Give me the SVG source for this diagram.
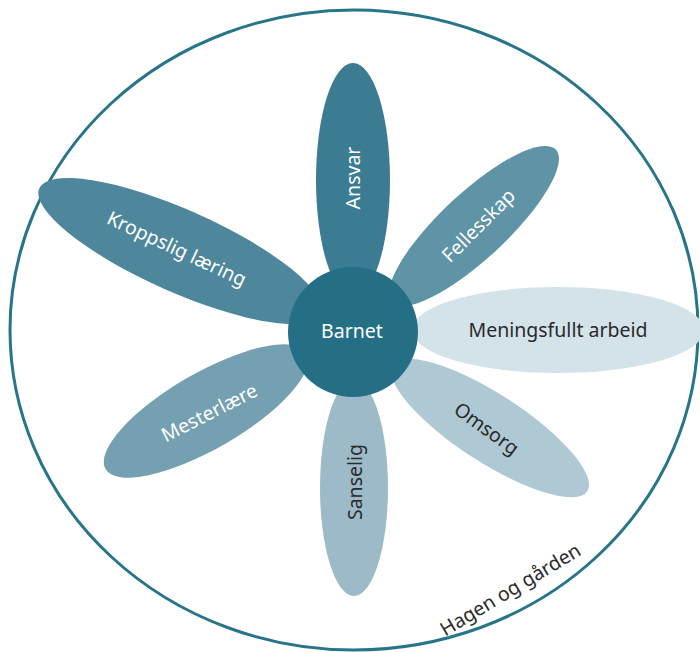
<svg xmlns="http://www.w3.org/2000/svg" width="700" height="652" viewBox="0 0 700 652">
  <style>
    .lbl { font-family: "Noto Sans", "Liberation Sans", sans-serif; font-size: 19.5px; text-anchor: middle; dominant-baseline: central; }
    .light { fill: #ffffff; }
    .dark { fill: #2a2a2a; }
  </style>
  <rect width="700" height="652" fill="#ffffff"/>

  <!-- outer boundary: the garden and farm -->
  <g id="garden">
    <ellipse cx="354" cy="330" rx="344" ry="320" fill="none" stroke="#28758a" stroke-width="3"/>
    <text class="lbl dark" font-size="17.5" transform="translate(510,589) rotate(-31)">Hagen og gården</text>
  </g>

  <!-- petals -->
  <g id="petal-ansvar">
    <ellipse cx="353" cy="180" rx="37" ry="117" fill="#3b7c93"/>
    <text class="lbl light" transform="translate(352,178) rotate(-90)">Ansvar</text>
  </g>
  <g id="petal-fellesskap">
    <ellipse cx="0" cy="0" rx="112" ry="33" fill="#5f94a6" transform="translate(474,226) rotate(-43)"/>
    <text class="lbl light" transform="translate(478,225) rotate(-45)">Fellesskap</text>
  </g>
  <g id="petal-meningsfullt">
    <ellipse cx="558" cy="330" rx="146" ry="43" fill="#d4e3ea"/>
    <text class="lbl dark" x="558" y="329">Meningsfullt arbeid</text>
  </g>
  <g id="petal-omsorg">
    <ellipse cx="0" cy="0" rx="116" ry="34" fill="#aec8d4" transform="translate(490,428) rotate(33)"/>
    <text class="lbl dark" transform="translate(487,428) rotate(36)">Omsorg</text>
  </g>
  <g id="petal-sanselig">
    <ellipse cx="354" cy="488" rx="34" ry="108" fill="#9cbac8"/>
    <text class="lbl dark" transform="translate(354,482) rotate(-90)">Sanselig</text>
  </g>
  <g id="petal-mesterlaere">
    <ellipse cx="0" cy="0" rx="116" ry="38" fill="#74a0b1" transform="translate(206,411) rotate(-30)"/>
    <text class="lbl light" transform="translate(209,412) rotate(-27)">Mesterlære</text>
  </g>
  <g id="petal-kroppslig">
    <ellipse cx="0" cy="0" rx="154" ry="41" fill="#4e879c" transform="translate(180,251) rotate(24)"/>
    <text class="lbl light" transform="translate(177,248) rotate(25)">Kroppslig læring</text>
  </g>

  <!-- centre -->
  <g id="barnet">
    <circle cx="353" cy="332" r="65" fill="#246f85"/>
    <text class="lbl light" x="352" y="330">Barnet</text>
  </g>
</svg>
